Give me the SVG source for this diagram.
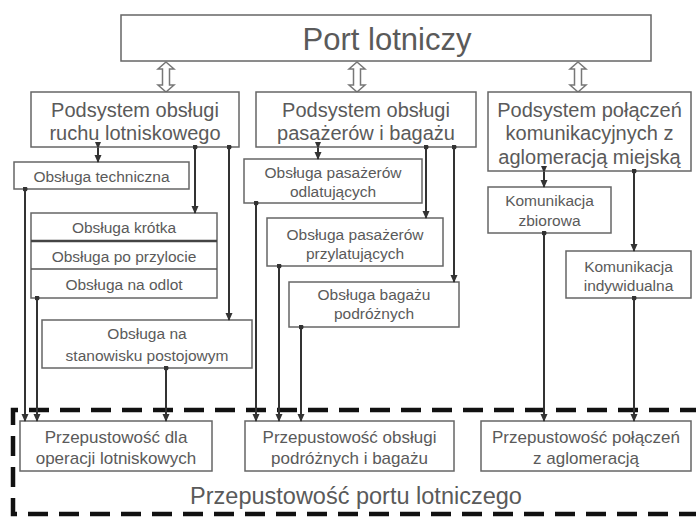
<svg xmlns="http://www.w3.org/2000/svg" width="696" height="518" viewBox="0 0 696 518">
<defs>
<marker id="ah" viewBox="0 0 8 8" refX="7" refY="4" markerWidth="8" markerHeight="8" markerUnits="userSpaceOnUse" orient="auto"><path d="M0,0.5 L8,4 L0,7.5 Z" fill="#333"/></marker>
<marker id="dot" viewBox="0 0 6 6" refX="3" refY="3" markerWidth="5" markerHeight="5" markerUnits="userSpaceOnUse"><circle cx="3" cy="3" r="3" fill="#333"/></marker>
<marker id="ahs" viewBox="0 0 8 8" refX="1" refY="4" markerWidth="7" markerHeight="7" markerUnits="userSpaceOnUse" orient="auto-start-reverse"><path d="M8,0.5 L0,4 L8,7.5 Z" fill="#333"/></marker>
</defs>
<style>
.box{fill:#fff;stroke:#666;stroke-width:1.5}
.t{font-family:"Liberation Sans",Arial,sans-serif;fill:#5a5a5a;text-anchor:middle}
.big{font-size:31px}
.sub{font-size:20px}
.sm{font-size:15.5px}
.pp{font-size:17px}
.c{fill:none;stroke:#333;stroke-width:2}
.ea{marker-end:url(#ah)}
.sd{marker-start:url(#dot)}
.dbl{fill:#fff;stroke:#777;stroke-width:1.5}
</style>
<rect width="696" height="518" fill="#fff"/>

<g id="port">
<rect class="box" x="121" y="15" width="530" height="46"/>
<text class="t big" x="387" y="50">Port lotniczy</text>
</g>

<g id="link-arrows">
<polygon class="dbl" points="166,62 174,69 169.5,69 169.5,85 174,85 166,92 158,85 162.5,85 162.5,69 158,69"/>
<polygon class="dbl" points="357,62 365,69 360.5,69 360.5,85 365,85 357,92 349,85 353.5,85 353.5,69 349,69"/>
<polygon class="dbl" points="578,62 586,69 581.5,69 581.5,85 586,85 578,92 570,85 574.5,85 574.5,69 570,69"/>
</g>

<g id="sub-ruch">
<rect class="box" x="31" y="92" width="208" height="55"/>
<text class="t sub" x="135" y="117">Podsystem obsługi</text>
<text class="t sub" x="135" y="140">ruchu lotniskowego</text>
</g>
<g id="sub-pasazer">
<rect class="box" x="256" y="92" width="220" height="55"/>
<text class="t sub" x="366" y="117">Podsystem obsługi</text>
<text class="t sub" x="366" y="140">pasażerów i bagażu</text>
</g>
<g id="sub-polaczen">
<rect class="box" x="488" y="92" width="203" height="79"/>
<text class="t sub" x="589.5" y="117">Podsystem połączeń</text>
<text class="t sub" x="589.5" y="140">komunikacyjnych z</text>
<text class="t sub" x="589.5" y="164">aglomeracją miejską</text>
</g>

<g id="techniczna">
<rect class="box" x="14" y="162" width="175" height="27"/>
<text class="t sm" x="101.5" y="182">Obsługa techniczna</text>
</g>
<g id="stack">
<rect class="box" x="31" y="213" width="186" height="85"/>
<line x1="31" y1="241" x2="217" y2="241" stroke="#444" stroke-width="2.5"/>
<line x1="31" y1="269" x2="217" y2="269" stroke="#555" stroke-width="1.5"/>
<text class="t sm" x="124" y="233">Obsługa krótka</text>
<text class="t sm" x="124" y="262">Obsługa po przylocie</text>
<text class="t sm" x="124" y="290">Obsługa na odlot</text>
</g>
<g id="stanowisko">
<rect class="box" x="42" y="320" width="210" height="48"/>
<text class="t sm" x="147" y="339">Obsługa na</text>
<text class="t sm" x="147" y="361">stanowisku postojowym</text>
</g>

<g id="odlatujacych">
<rect class="box" x="244" y="159" width="178" height="44"/>
<text class="t sm" x="333" y="178">Obsługa pasażerów</text>
<text class="t sm" x="333" y="197">odlatujących</text>
</g>
<g id="przylatujacych">
<rect class="box" x="267" y="218" width="176" height="48"/>
<text class="t sm" x="355" y="240">Obsługa pasażerów</text>
<text class="t sm" x="355" y="259">przylatujących</text>
</g>
<g id="bagazu">
<rect class="box" x="289" y="282" width="170" height="45"/>
<text class="t sm" x="374" y="300">Obsługa bagażu</text>
<text class="t sm" x="374" y="319">podróżnych</text>
</g>

<g id="zbiorowa">
<rect class="box" x="488" y="187" width="123" height="46"/>
<text class="t sm" x="549.5" y="206">Komunikacja</text>
<text class="t sm" x="549.5" y="226">zbiorowa</text>
</g>
<g id="indywidualna">
<rect class="box" x="566" y="251" width="125" height="47"/>
<text class="t sm" x="628.5" y="272">Komunikacja</text>
<text class="t sm" x="628.5" y="291">indywidualna</text>
</g>

<g id="boundary">
<path d="M700 410 H13 V514 H700" fill="none" stroke="#111" stroke-width="4.5" stroke-dasharray="20 11"/>
<text class="t" x="356" y="504" style="font-size:23.5px">Przepustowość portu lotniczego</text>
</g>

<g id="prz-lotnisk">
<rect class="box" x="20" y="421" width="192" height="50"/>
<text class="t pp" x="116" y="443">Przepustowość dla</text>
<text class="t pp" x="116" y="464">operacji lotniskowych</text>
</g>
<g id="prz-podroznych">
<rect class="box" x="245" y="421" width="209" height="50"/>
<text class="t pp" x="349.5" y="443">Przepustowość obsługi</text>
<text class="t pp" x="349.5" y="464">podróżnych i bagażu</text>
</g>
<g id="prz-aglomeracja">
<rect class="box" x="481" y="421" width="210" height="50"/>
<text class="t pp" x="586" y="443">Przepustowość połączeń</text>
<text class="t pp" x="586" y="464">z aglomeracją</text>
</g>

<g id="connectors">
<line class="c ea" x1="98" y1="148" x2="98" y2="162" marker-start="url(#ahs)"/>
<line class="c ea sd" x1="195" y1="147" x2="195" y2="213"/>
<line class="c ea sd" x1="229" y1="147" x2="229" y2="320"/>
<line class="c ea sd" x1="25" y1="189" x2="25" y2="421"/>
<line class="c ea sd" x1="37" y1="298" x2="37" y2="421"/>
<line class="c ea sd" x1="166" y1="368" x2="166" y2="421"/>

<line class="c ea" x1="318" y1="148" x2="318" y2="159" marker-start="url(#ahs)"/>
<line class="c ea sd" x1="426" y1="147" x2="426" y2="218"/>
<line class="c ea sd" x1="454" y1="147" x2="454" y2="282"/>
<line class="c ea sd" x1="256" y1="203" x2="256" y2="421"/>
<line class="c ea sd" x1="279" y1="266" x2="279" y2="421"/>
<line class="c ea sd" x1="301" y1="327" x2="301" y2="421"/>

<line class="c ea" x1="544" y1="172" x2="544" y2="187" marker-start="url(#ahs)"/>
<line class="c ea sd" x1="634" y1="171" x2="634" y2="251"/>
<line class="c ea sd" x1="544" y1="233" x2="544" y2="421"/>
<line class="c ea sd" x1="634" y1="298" x2="634" y2="421"/>
</g>
</svg>
